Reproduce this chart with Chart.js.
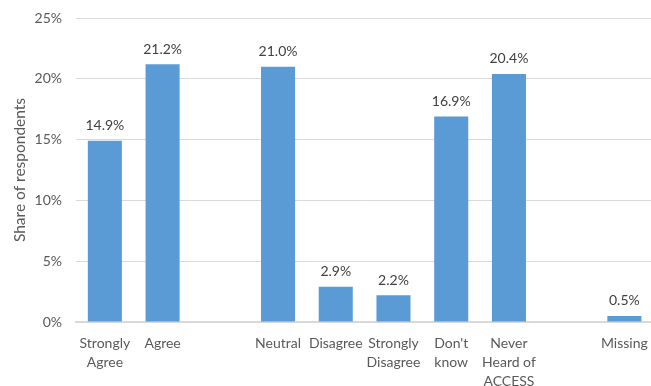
<!DOCTYPE html>
<html>
<head>
<meta charset="utf-8">
<script src="https://cdn.jsdelivr.net/npm/chart.js@4"></script>
<style>
  html, body { margin: 0; padding: 0; background: #fff; overflow: hidden; }
  #grafico { display: block; }
</style>
</head>
<body>
<canvas id="grafico" width="660" height="386"></canvas>
<script>
// answer categories (blank slots keep the gaps between groups)
const respostas = [
    ['Strongly', 'Agree'], 'Agree', '', 'Neutral', 'Disagree',
    ['Strongly', 'Disagree'], ['Don\'t', 'know'], ['Never', 'Heard of', 'ACCESS'], '', 'Missing'
];
// share of respondents, in percent
const percentuais = [14.9, 21.2, null, 21.0, 2.9, 2.2, 16.9, 20.4, null, 0.5];
const ticksY = [0, 5, 10, 15, 20, 25];

const fonte = "Lato, 'Open Sans', sans-serif";
const cinza = '#595959';

// writes the value above each bar
const rotulosValor = {
    id: 'rotulosValor',
    afterDatasetsDraw(chart) {
        const ctx = chart.ctx;
        const meta = chart.getDatasetMeta(0);
        ctx.save();
        ctx.font = '14px ' + fonte;
        ctx.fillStyle = '#404040';
        ctx.textAlign = 'center';
        ctx.textBaseline = 'bottom';
        meta.data.forEach((barra, i) => {
            const v = percentuais[i];
            if (v == null) return;
            ctx.fillText(v.toFixed(1) + '%', barra.x, barra.y - 8);
        });
        ctx.restore();
    }
};

// pins the top of the plot area so the 25% line sits near the top edge
const topoFixo = {
    id: 'topoFixo',
    afterLayout(chart) {
        const topo = 18;
        const area = chart.chartArea;
        area.top = topo;
        area.height = area.bottom - topo;
        const y = chart.scales.y;
        y.top = topo;
        y.height = y.bottom - topo;
        y.configure();
    }
};

const grafico = document.getElementById('grafico').getContext('2d');
new Chart(grafico, {
    type: 'bar',
    data: {
        labels: respostas,
        datasets: [{
            data: percentuais,
            backgroundColor: '#5b9bd5',
            barPercentage: 0.59,
            categoryPercentage: 1
        }]
    },
    options: {
        responsive: false,
        animation: false,
        layout: { padding: { top: 10, right: 4, left: 0, bottom: 0 } },
        plugins: {
            legend: { display: false },
            tooltip: { enabled: false }
        },
        scales: {
            x: {
                grid: { display: false, drawTicks: false },
                border: { color: '#d9d9d9', width: 2 },
                ticks: {
                    color: cinza,
                    font: { family: fonte, size: 14, lineHeight: 1.35 },
                    maxRotation: 0,
                    autoSkip: false,
                    padding: 12
                },
                afterFit: (escala) => { escala.height = 64; }
            },
            y: {
                min: 0,
                max: 25,
                afterBuildTicks: (escala) => {
                    escala.ticks = ticksY.map(v => ({ value: v }));
                },
                grid: { color: '#d9d9d9', drawTicks: false },
                border: { display: false },
                ticks: {
                    color: cinza,
                    font: { family: fonte, size: 14 },
                    padding: 14,
                    callback: (v) => v + '%'
                },
                title: {
                    display: true,
                    text: 'Share of respondents',
                    color: cinza,
                    font: { family: fonte, size: 15.5 },
                    padding: { top: 11, bottom: 0 }
                },
                afterFit: (escala) => { escala.width = 76; }
            }
        }
    },
    plugins: [rotulosValor, topoFixo]
});
</script>
</body>
</html>
